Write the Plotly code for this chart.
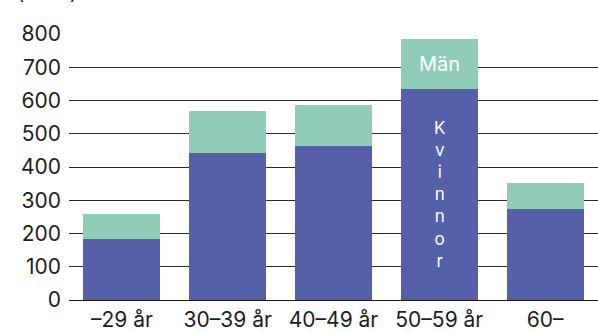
import plotly.graph_objects as go

categories = ["–29 år", "30–39 år", "40–49 år", "50–59 år", "60–"]
kvinnor = [183, 442, 463, 634, 273]
man = [75, 126, 122, 150, 78]
y_ticks = [0, 100, 200, 300, 400, 500, 600, 700, 800]

FONT = "Inter"
TXT = "#1e1e1e"
TICK_SIZE = 21

fig = go.Figure()
fig.add_trace(go.Bar(x=categories, y=kvinnor, name="Kvinnor",
                     marker=dict(color="#5560a8", line=dict(width=0))))
fig.add_trace(go.Bar(x=categories, y=man, name="Män",
                     marker=dict(color="#8fcdba", line=dict(width=0))))

# in-bar labels on the 50–59 bar
fig.add_annotation(x=categories[3], y=kvinnor[3] + man[3] / 2, text="Män",
                   showarrow=False, font=dict(family=FONT, size=20, color="white"),
                   xanchor="center", yanchor="middle")
fig.add_annotation(x=categories[3], y=318, text="<br>".join(list("Kvinnor")),
                   showarrow=False, font=dict(family=FONT, size=17, color="white"),
                   xanchor="center", yanchor="middle")
# unit label (clipped at top)
fig.add_annotation(xref="paper", yref="paper", x=-0.102, y=1.0 + 28 / 266,
                   text="(antal)", showarrow=False, xanchor="left", yanchor="bottom",
                   font=dict(family=FONT, size=20, color=TXT))

fig.update_layout(
    width=598, height=332,
    margin=dict(l=69, r=0, t=34, b=32),
    barmode="stack", bargap=0.272,
    showlegend=False,
    plot_bgcolor="white", paper_bgcolor="white",
    font=dict(family=FONT, size=TICK_SIZE, color=TXT),
)
fig.update_xaxes(showgrid=False, showline=False, ticks="", ticklabelstandoff=5,
                 tickfont=dict(family=FONT, size=TICK_SIZE, color=TXT))
fig.update_yaxes(range=[0, 800], tickvals=y_ticks, showgrid=True,
                 gridcolor="#2a2a2a", gridwidth=1.3, zeroline=True,
                 zerolinecolor="#1a1a1a", zerolinewidth=1.3, showline=False,
                 ticks="", ticklabelstandoff=7,
                 tickfont=dict(family=FONT, size=TICK_SIZE, color=TXT))

fig.write_html("out.html",
               config={"displayModeBar": False},
               post_script="document.body.style.margin='0px';"
                           "document.body.style.overflow='hidden';")
